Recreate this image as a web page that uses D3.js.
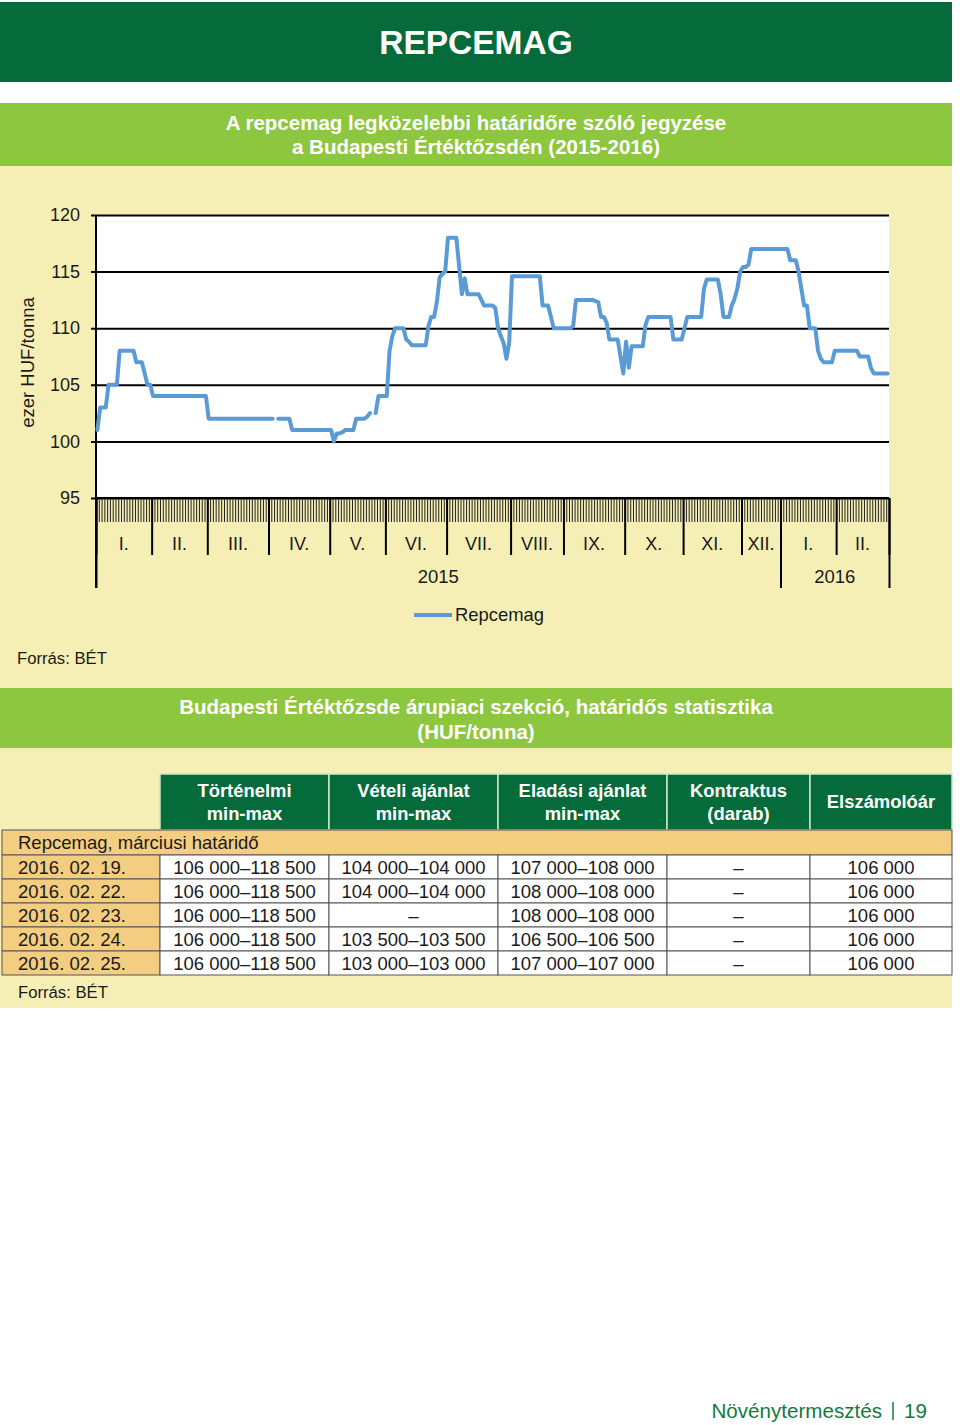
<!DOCTYPE html>
<html>
<head>
<meta charset="utf-8">
<script src="https://cdn.jsdelivr.net/npm/d3@7"></script>
<style>
  html, body { margin: 0; padding: 0; background: #ffffff; }
  svg { display: block; font-family: "Liberation Sans", Arial, sans-serif; }
</style>
</head>
<body>
<svg id="page" width="960" height="1425"></svg>
<script>
// ---------------- DATA ----------------
const pageTitle = "REPCEMAG";
const chartTitle = ["A repcemag legközelebbi határidőre szóló jegyzése", "a Budapesti Értéktőzsdén (2015-2016)"];
const yAxisTitle = "ezer HUF/tonna";
const yTicks = [95, 100, 105, 110, 115, 120];
const monthLabels = ["I.", "II.", "III.", "IV.", "V.", "VI.", "VII.", "VIII.", "IX.", "X.", "XI.", "XII.", "I.", "II."];
const tradingDaysPerMonth = [20, 20, 22, 22, 20, 22, 23, 19, 22, 21, 21, 14, 20, 19];
const yearLabels = ["2015", "2016"];
const yearStartMonth = [0, 12];
const seriesName = "Repcemag";
// daily closing quote, thousand HUF/tonne (null = no quote)
const prices = [
  // 2015 I.
  101,103,103,103,105,105,105,105,108,108,108,108,108,108,107,107,107,106,105,105,
  // II.
  104,104,104,104,104,104,104,104,104,104,104,104,104,104,104,104,104,104,104,104,
  // III.
  102,102,102,102,102,102,102,102,102,102,102,102,102,102,102,102,102,102,102,102,102,102,
  // IV.
  102,102,null,102,102,102,102,102,101,101,101,101,101,101,101,101,101,101,101,101,101,101,
  // V.
  101,100,100.7,100.7,100.8,101,101,101,101,102,102,102,102,102.2,102.5,null,102.5,104,104,104,
  // VI.
  104,108,109.3,110,110,110,110,109,108.8,108.5,108.5,108.5,108.5,108.5,108.5,110.2,111,111,112.3,114.5,114.8,115,
  // VII.
  118,118,118,118,115.5,113,114.4,113,113,113,113,113,112.5,112,112,112,112,111.8,110,109.3,108.7,107.3,108.7,
  // VIII.
  114.6,114.6,114.6,114.6,114.6,114.6,114.6,114.6,114.6,114.6,114.6,112,112,112,111,110,110,110,110,
  // IX.
  110,110,110,110.2,112.5,112.5,112.5,112.5,112.5,112.5,112.5,112.4,112.3,111,111,110.5,109,109,109,109,107.5,106,
  // X.
  108.8,106.5,108.4,108.4,108.4,108.4,108.4,110.3,111,111,111,111,111,111,111,111,111,109,109,109,109,
  // XI.
  110,111,111,111,111,111,111,113.5,114.3,114.3,114.3,114.3,114.3,113,111,111,111,112,112.6,113.5,115,
  // XII.
  115.4,115.4,115.6,117,117,117,117,117,117,117,117,117,117,117,
  // 2016 I.
  117,117,117,116,116,116,115,113.5,112,112,110,110,110,108,107.3,107,107,107,107,108,
  // II.
  108,108,108,108,108,108,108,108,107.5,107.5,107.5,107.5,106.5,106,106,106,106,106,106
];
const sourceText = "Forrás: BÉT";

const tableTitle = ["Budapesti Értéktőzsde árupiaci szekció, határidős statisztika", "(HUF/tonna)"];
const tableHeaders = [["Történelmi", "min-max"], ["Vételi ajánlat", "min-max"], ["Eladási ajánlat", "min-max"], ["Kontraktus", "(darab)"], ["Elszámolóár"]];
const tableSection = "Repcemag, márciusi határidő";
const tableDates = ["2016. 02. 19.", "2016. 02. 22.", "2016. 02. 23.", "2016. 02. 24.", "2016. 02. 25."];
const histMinMax = ["106 000–118 500", "106 000–118 500", "106 000–118 500", "106 000–118 500", "106 000–118 500"];
const bidMinMax = ["104 000–104 000", "104 000–104 000", "–", "103 500–103 500", "103 000–103 000"];
const askMinMax = ["107 000–108 000", "108 000–108 000", "108 000–108 000", "106 500–106 500", "107 000–107 000"];
const contracts = ["–", "–", "–", "–", "–"];
const settlement = ["106 000", "106 000", "106 000", "106 000", "106 000"];
const footerSection = "Növénytermesztés";
const footerPage = "19";

// ---------------- STYLE ----------------
const C = {
  dark: "#066b3a",
  light: "#8dc63f",
  yellow: "#f6efb5",
  tan: "#f3cd80",
  line: "#5b9bd5",
  text: "#1a1a1a"
};

const svg = d3.select("#page");

// header bars
svg.append("rect").attr("x", 0).attr("y", 2).attr("width", 952).attr("height", 80).attr("fill", C.dark);
svg.append("text").attr("x", 476).attr("y", 54).attr("text-anchor", "middle")
  .attr("font-size", 33.5).attr("font-weight", "bold").attr("fill", "#fff").text(pageTitle);

svg.append("rect").attr("x", 0).attr("y", 103).attr("width", 952).attr("height", 63).attr("fill", C.light);
chartTitle.forEach((t, i) => svg.append("text").attr("x", 476).attr("y", 130 + i * 24)
  .attr("text-anchor", "middle").attr("font-size", 20.5).attr("font-weight", "bold").attr("fill", "#fff").text(t));

// yellow panels
svg.append("rect").attr("x", 0).attr("y", 166).attr("width", 952).attr("height", 522).attr("fill", C.yellow);
svg.append("rect").attr("x", 0).attr("y", 688).attr("width", 952).attr("height", 60).attr("fill", C.light);
svg.append("rect").attr("x", 0).attr("y", 748).attr("width", 952).attr("height", 260).attr("fill", C.yellow);

// ---------------- CHART ----------------
const nDays = d3.sum(tradingDaysPerMonth);
const x = d3.scaleLinear().domain([0, nDays]).range([96, 889]);
const y = d3.scaleLinear().domain([95, 120]).range([498, 215]);

svg.append("rect").attr("x", x(0)).attr("y", y(120)).attr("width", x(nDays) - x(0)).attr("height", y(95) - y(120)).attr("fill", "#fff");

// gridlines + y labels
const yAxis = d3.axisLeft(y).tickValues(yTicks).tickSize(-(x(nDays) - x(0))).tickPadding(16).tickFormat(d3.format("d"));
const gy = svg.append("g").attr("transform", `translate(${x(0)},0)`).call(yAxis);
gy.select(".domain").remove();
gy.selectAll(".tick line").attr("stroke", "#000").attr("stroke-width", 2).attr("x1", -5);
gy.selectAll(".tick text").attr("font-size", 18).attr("fill", C.text).attr("font-family", "Liberation Sans, Arial, sans-serif");

// month boundaries
const cum = [0];
tradingDaysPerMonth.forEach(d => cum.push(cum[cum.length - 1] + d));

// daily ticks
const gDay = svg.append("g").attr("transform", `translate(0,${y(95)})`)
  .call(d3.axisBottom(x).tickValues(d3.range(nDays + 1)).tickSize(24).tickFormat(""));
gDay.select(".domain").remove();
gDay.selectAll(".tick line").attr("stroke", "#222").attr("stroke-width", 1);

// month ticks
const gMonth = svg.append("g").attr("transform", `translate(0,${y(95)})`)
  .call(d3.axisBottom(x).tickValues(cum).tickSize(57).tickFormat(""));
gMonth.select(".domain").attr("stroke", "#000").attr("stroke-width", 2).attr("d", `M${x(0)},0H${x(nDays)}`);
gMonth.selectAll(".tick line").attr("stroke", "#000").attr("stroke-width", 2);

// year ticks
const yearBounds = yearStartMonth.map(m => cum[m]).concat([nDays]);
const gYear = svg.append("g").attr("transform", `translate(0,${y(95)})`)
  .call(d3.axisBottom(x).tickValues(yearBounds).tickSize(90).tickFormat(""));
gYear.select(".domain").remove();
gYear.selectAll(".tick line").attr("stroke", "#000").attr("stroke-width", 2);

// left axis line
svg.append("line").attr("x1", x(0)).attr("x2", x(0)).attr("y1", y(120)).attr("y2", y(95) + 90)
  .attr("stroke", "#000").attr("stroke-width", 2);

// month labels
monthLabels.forEach((m, i) => {
  svg.append("text").attr("x", x((cum[i] + cum[i + 1]) / 2)).attr("y", 550)
    .attr("text-anchor", "middle").attr("font-size", 18).attr("fill", C.text).text(m);
});
yearLabels.forEach((t, i) => {
  svg.append("text").attr("x", x((yearBounds[i] + yearBounds[i + 1]) / 2)).attr("y", 583)
    .attr("text-anchor", "middle").attr("font-size", 18.5).attr("fill", C.text).text(t);
});

// y axis title
svg.append("text").attr("transform", `translate(34,${(y(120) + y(95)) / 2 + 6}) rotate(-90)`)
  .attr("text-anchor", "middle").attr("font-size", 18.5).attr("fill", C.text).text(yAxisTitle);

// line
const line = d3.line().defined(d => d != null).x((d, i) => x(i + 0.5)).y(d => y(d));
svg.append("path").datum(prices).attr("d", line).attr("fill", "none")
  .attr("stroke", C.line).attr("stroke-width", 4).attr("stroke-linejoin", "round").attr("stroke-linecap", "round");

// legend
svg.append("line").attr("x1", 414).attr("x2", 452).attr("y1", 615).attr("y2", 615).attr("stroke", C.line).attr("stroke-width", 4);
svg.append("text").attr("x", 455).attr("y", 621).attr("font-size", 18.4).attr("fill", C.text).text(seriesName);

svg.append("text").attr("x", 17).attr("y", 664).attr("font-size", 16.7).attr("fill", C.text).text(sourceText);

// ---------------- TABLE ----------------
tableTitle.forEach((t, i) => svg.append("text").attr("x", 476).attr("y", 714 + i * 25)
  .attr("text-anchor", "middle").attr("font-size", 20.5).attr("font-weight", "bold").attr("fill", "#fff").text(t));

const colX = [2, 160, 329, 498, 667, 810, 952];
const headTop = 774, headBot = 830, rowH = 24, sectTop = 830;

tableHeaders.forEach((h, c) => {
  const x0 = colX[c + 1], x1 = colX[c + 2];
  svg.append("rect").attr("x", x0).attr("y", headTop).attr("width", x1 - x0).attr("height", headBot - headTop)
    .attr("fill", C.dark).attr("stroke", "#cfe6c8").attr("stroke-width", 1.5);
  h.forEach((t, k) => svg.append("text").attr("x", (x0 + x1) / 2)
    .attr("y", h.length === 1 ? 808 : 797 + k * 23).attr("text-anchor", "middle")
    .attr("font-size", 18.4).attr("font-weight", "bold").attr("fill", "#fff").text(t));
});

svg.append("rect").attr("x", colX[0]).attr("y", sectTop).attr("width", colX[6] - colX[0]).attr("height", 25)
  .attr("fill", C.tan).attr("stroke", "#555").attr("stroke-width", 1);
svg.append("text").attr("x", 18).attr("y", 849).attr("font-size", 18.5).attr("fill", C.text).text(tableSection);

const cols = [tableDates, histMinMax, bidMinMax, askMinMax, contracts, settlement];
tableDates.forEach((d, r) => {
  const top = 855 + r * rowH;
  cols.forEach((col, c) => {
    const x0 = colX[c], x1 = colX[c + 1];
    svg.append("rect").attr("x", x0).attr("y", top).attr("width", x1 - x0).attr("height", rowH)
      .attr("fill", c === 0 ? C.tan : "#fff").attr("stroke", "#555").attr("stroke-width", 1);
    svg.append("text").attr("x", c === 0 ? 18 : (x0 + x1) / 2).attr("y", top + 18.5)
      .attr("text-anchor", c === 0 ? "start" : "middle").attr("font-size", 18.5).attr("fill", C.text).text(col[r]);
  });
});

svg.append("text").attr("x", 18).attr("y", 998).attr("font-size", 16.7).attr("fill", C.text).text(sourceText);

// footer
svg.append("text").attr("x", 882).attr("y", 1418).attr("text-anchor", "end").attr("font-size", 20.6).attr("fill", "#137a3e").text(footerSection);
svg.append("line").attr("x1", 893).attr("x2", 893).attr("y1", 1402).attr("y2", 1420).attr("stroke", "#137a3e").attr("stroke-width", 1.5);
svg.append("text").attr("x", 904).attr("y", 1418).attr("font-size", 20.6).attr("fill", "#137a3e").text(footerPage);
</script>
</body>
</html>
